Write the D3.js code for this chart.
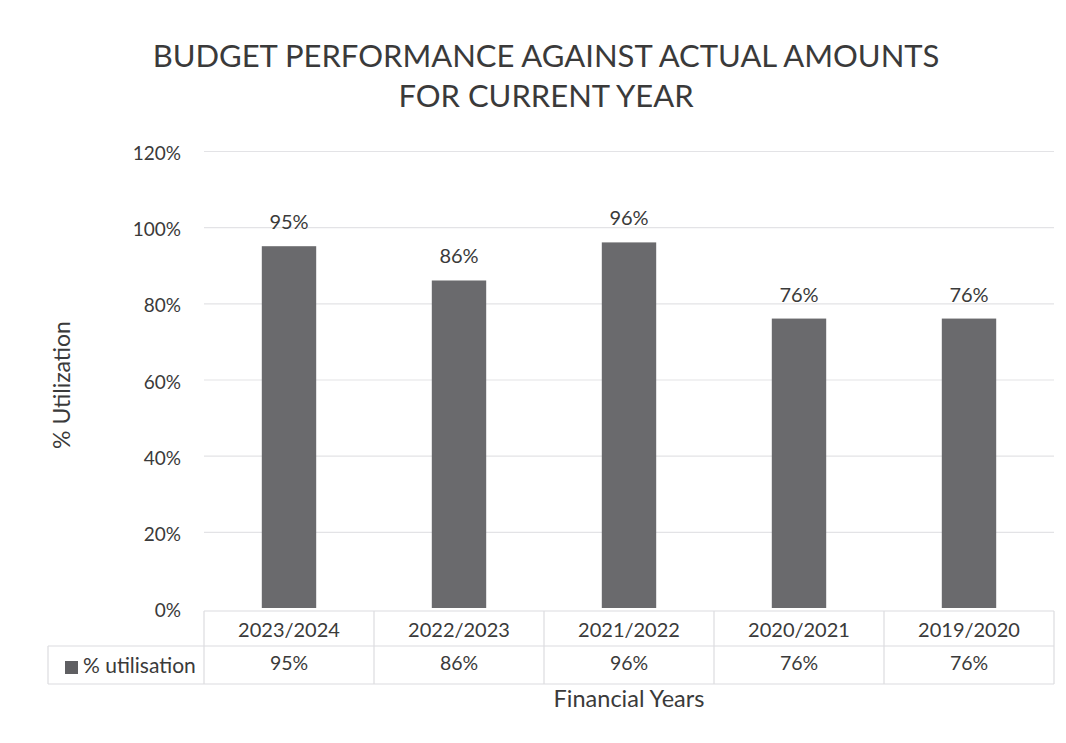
<!DOCTYPE html>
<html>
<head>
<meta charset="utf-8">
<script src="https://cdn.jsdelivr.net/npm/d3@7"></script>
<style>
  html, body { margin: 0; padding: 0; background: #fff; }
  svg { display: block; }
  text { font-family: Lato, "Open Sans", sans-serif; fill: #3a3a3a; }
</style>
</head>
<body>
<svg id="chart" width="1066" height="743"></svg>
<script>
const categories = ["2023/2024", "2022/2023", "2021/2022", "2020/2021", "2019/2020"];
const values = [0.95, 0.86, 0.96, 0.76, 0.76];
const yTicks = [0, 0.2, 0.4, 0.6, 0.8, 1.0, 1.2];
const seriesName = "% utilisation";
const titleLines = ["BUDGET PERFORMANCE AGAINST ACTUAL AMOUNTS", "FOR CURRENT YEAR"];
const yTitle = "% Utilization";
const xTitle = "Financial Years";

const W = 1066, H = 743;
const plot = { left: 204, right: 1054, top: 151, bottom: 608 };
const tableLeft = 48;
const row1 = { top: 611, bottom: 646 };
const row2 = { top: 646, bottom: 684 };

const svg = d3.select("#chart");
svg.append("rect").attr("width", W).attr("height", H).attr("fill", "#fff");

const x = d3.scaleBand().domain(categories).range([plot.left, plot.right]).paddingInner(0.68).paddingOuter(0.34);
const xCell = d3.scaleBand().domain(categories).range([plot.left, plot.right]);
const y = d3.scaleLinear().domain([0, 1.2]).range([plot.bottom, plot.top]);
const pct = d3.format(".0%");

// title
svg.append("g").selectAll("text").data(titleLines).join("text")
  .attr("x", 546).attr("y", (d, i) => 67 + i * 40)
  .attr("text-anchor", "middle")
  .attr("font-size", 31)
  .text(d => d);

// gridlines via axis
const yAxis = d3.axisLeft(y).tickValues(yTicks).tickFormat(pct)
  .tickSize(-(plot.right - plot.left)).tickPadding(23);
const gy = svg.append("g").attr("transform", `translate(${plot.left},0)`).call(yAxis);
gy.select(".domain").remove();
gy.selectAll(".tick line").attr("stroke", "#e3e3e6").attr("stroke-width", 1.2)
  .filter(d => d === 0).remove();
gy.selectAll(".tick text").attr("font-size", 19).attr("fill", "#3a3a3a")
  .attr("font-family", "Lato, 'Open Sans', sans-serif").attr("dy", "0.45em");

// bars
svg.append("g").selectAll("rect").data(values).join("rect")
  .attr("x", (d, i) => x(categories[i]))
  .attr("width", x.bandwidth())
  .attr("y", d => y(d))
  .attr("height", d => y(0) - y(d))
  .attr("fill", "#6a6a6d");

// data labels
svg.append("g").selectAll("text").data(values).join("text")
  .attr("x", (d, i) => x(categories[i]) + x.bandwidth() / 2)
  .attr("y", d => y(d) - 17)
  .attr("text-anchor", "middle")
  .attr("font-size", 20)
  .text(d => pct(d));

// data table
const tbl = svg.append("g").attr("stroke", "#dcdce0").attr("stroke-width", 1.2).attr("fill", "none");
tbl.append("line").attr("x1", plot.left).attr("x2", plot.right).attr("y1", row1.top).attr("y2", row1.top);
tbl.append("line").attr("x1", tableLeft).attr("x2", plot.right).attr("y1", row2.top).attr("y2", row2.top);
tbl.append("line").attr("x1", tableLeft).attr("x2", plot.right).attr("y1", row2.bottom).attr("y2", row2.bottom);
tbl.append("line").attr("x1", tableLeft).attr("x2", tableLeft).attr("y1", row2.top).attr("y2", row2.bottom);
const bounds = categories.map(c => xCell(c)).concat([plot.right]);
tbl.selectAll("line.v").data(bounds).join("line").attr("class", "v")
  .attr("x1", d => d).attr("x2", d => d).attr("y1", row1.top).attr("y2", row2.bottom);

svg.append("g").selectAll("text").data(categories).join("text")
  .attr("x", d => xCell(d) + xCell.bandwidth() / 2)
  .attr("y", 637)
  .attr("text-anchor", "middle").attr("font-size", 20)
  .text(d => d);

svg.append("g").selectAll("text").data(values).join("text")
  .attr("x", (d, i) => xCell(categories[i]) + xCell.bandwidth() / 2)
  .attr("y", 670)
  .attr("text-anchor", "middle").attr("font-size", 19.5)
  .text(d => pct(d));

// legend key in table
svg.append("rect").attr("x", 65).attr("y", 661).attr("width", 13).attr("height", 13).attr("fill", "#5f5f62");
svg.append("text").attr("x", 83).attr("y", 673).attr("font-size", 21).text(seriesName);

// axis titles
svg.append("text").attr("transform", "translate(70,385) rotate(-90)")
  .attr("text-anchor", "middle").attr("font-size", 23).text(yTitle);
svg.append("text").attr("x", 629).attr("y", 707)
  .attr("text-anchor", "middle").attr("font-size", 23.5).text(xTitle);
</script>
</body>
</html>
